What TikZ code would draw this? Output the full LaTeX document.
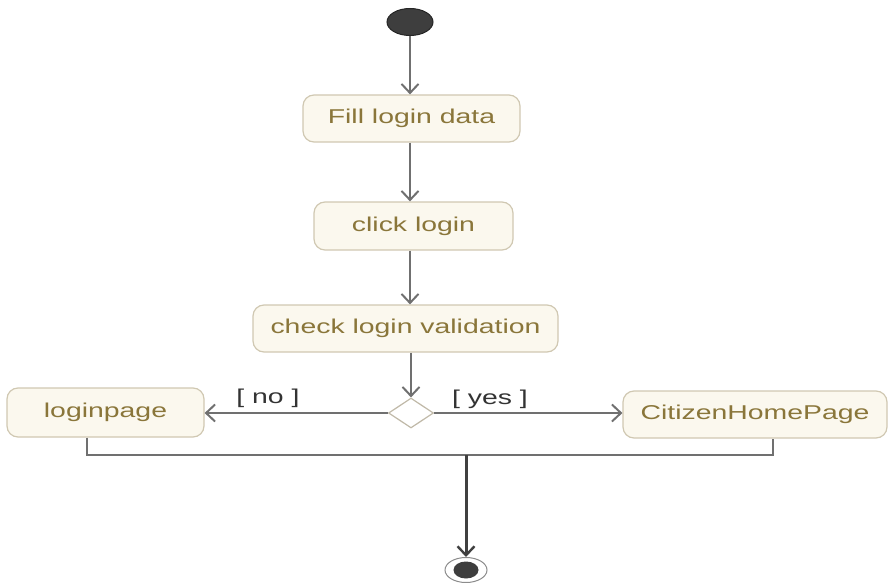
\documentclass[tikz,border=0pt]{standalone}
\usepackage{fontspec}
\usepackage{graphicx}
\setmainfont{Liberation Sans}
\usetikzlibrary{arrows.meta,shapes.geometric}

\definecolor{boxfill}{RGB}{251,248,238}
\definecolor{boxline}{RGB}{208,200,178}
\definecolor{boxtext}{RGB}{138,118,58}
\definecolor{flowline}{RGB}{112,112,112}
\definecolor{darkdot}{RGB}{62,62,62}

% wide sans text as used throughout the diagram
\newcommand{\widetext}[1]{\scalebox{1.42}[1]{\fontsize{20}{24}\selectfont #1}}

\tikzset{
  action/.style={draw=boxline, fill=boxfill, line width=1.2pt, rounded corners=11pt,
    inner sep=0pt, text=boxtext, font=\fontsize{20}{24}\selectfont},
  flow/.style={draw=flowline, line width=2.4pt,
    -{Straight Barb[length=9pt,width=17pt,line width=2pt]}},
  plainflow/.style={draw=flowline, line width=2.4pt},
  guard/.style={text=black!80, inner sep=1pt},
}

\begin{document}
\begin{tikzpicture}[x=1pt,y=-1pt]
\useasboundingbox (0,0) rectangle (891,583);

% initial state
\node (init) [ellipse, fill=darkdot, draw=black!85, line width=1pt,
  minimum width=46pt, minimum height=27pt, inner sep=0pt] at (410,22) {};

% actions
\node (fill)  [action, minimum width=217pt, minimum height=47pt] at (411.5,118.5) {\widetext{Fill login data}};
\node (click) [action, minimum width=199pt, minimum height=48pt] at (413.5,226) {\widetext{click login}};
\node (check) [action, minimum width=305pt, minimum height=47pt] at (405.5,328.5) {\widetext{check login validation}};
\node (login) [action, minimum width=197pt, minimum height=49pt] at (105.5,412.5) {\widetext{loginpage}};
\node (home)  [action, minimum width=264pt, minimum height=47pt] at (755,414.5) {\widetext{CitizenHomePage}};

% decision
\node (dec) [diamond, draw=boxline!80!gray, fill=white, line width=1.2pt,
  minimum width=45pt, minimum height=30pt, inner sep=0pt] at (411,413) {};

% final state
\node (final) [ellipse, draw=black!45, fill=white, line width=1pt,
  minimum width=42pt, minimum height=25pt, inner sep=0pt] at (466,570) {};
\node (finaldot) [ellipse, fill=darkdot, minimum width=25pt, minimum height=17pt,
  inner sep=0pt] at (final.center) {};

% merge points
\coordinate (jl) at (87,455);
\coordinate (jr) at (773,455);
\coordinate (jm) at (466,455);

% control flow
\draw[flow] (init.south) -- (init.south |- fill.north);
\draw[flow] (fill.south -| init) -- (click.north -| init);
\draw[flow] (click.south -| init) -- (check.north -| init);
\draw[flow] (check.south -| dec) -- (dec.north);
\draw[flow] (dec.west) -- (login.east |- dec.west);
\draw[flow] (dec.east) -- (home.west |- dec.east);
\draw[plainflow] (login.south -| jl) -- (jl) -- (jr) -- (home.south -| jr);
\draw[draw=black!75, line width=3pt,
  -{Straight Barb[length=9pt,width=17pt,line width=2.4pt]}] (jm) -- (final.north);

% guards
\node[guard] at (268,398) {\widetext{[ no ]}};
\node[guard] at (490,399) {\widetext{[ yes ]}};
\end{tikzpicture}
\end{document}
